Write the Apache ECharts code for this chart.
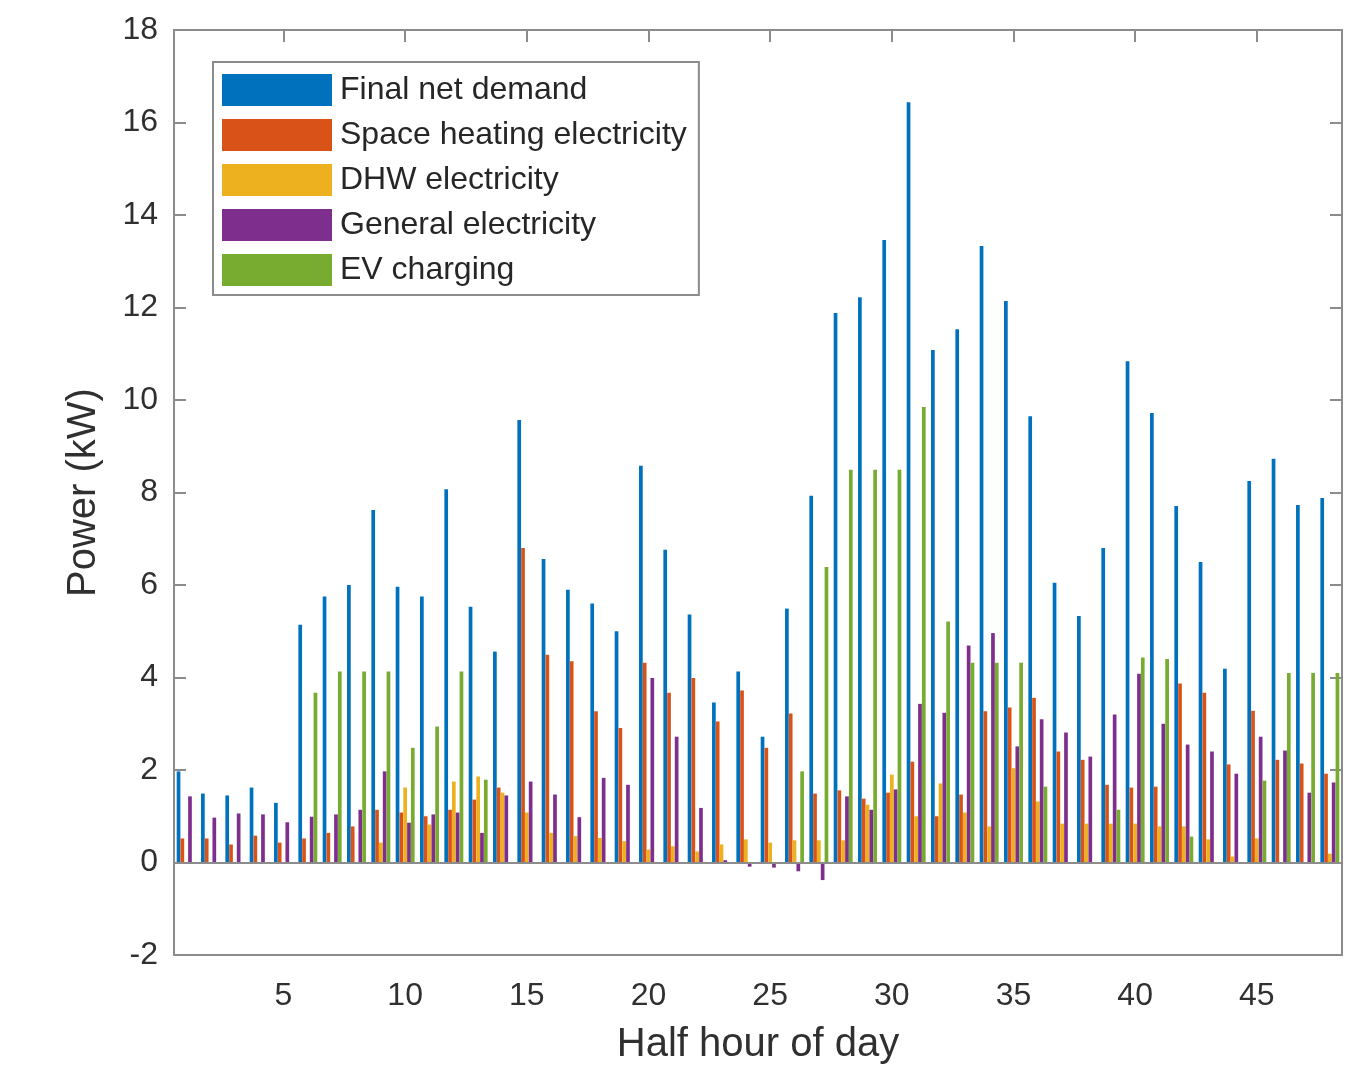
<!DOCTYPE html>
<html lang="en">

<head>
    <meta charset="UTF-8">
    <title>Half hour power</title>
    <style>
        html,
        body {
            margin: 0;
            padding: 0;
            background: #fff;
        }

        #main {
            width: 1350px;
            height: 1072px;
        }
    </style>
</head>

<body>
    <div id="main"></div>
    <script src="https://cdn.jsdelivr.net/npm/echarts@6/dist/echarts.min.js"></script>
    <script>
        // half hours 1..48
        var halfHours = [];
        for (var i = 1; i <= 48; i++) {
            halfHours.push(String(i));
        }

        var seriesNames = ['Final net demand', 'Space heating electricity', 'DHW electricity', 'General electricity', 'EV charging'];
        var seriesColors = ['#0072BD', '#D95319', '#EDB120', '#7E2F8E', '#77AC30'];

        var netDemand = [1.97, 1.49, 1.45, 1.62, 1.29, 5.14, 5.75, 6.0, 7.62, 5.96,
            5.75, 8.07, 5.53, 4.56, 9.57, 6.56, 5.9, 5.6, 5.0, 8.58,
            6.76, 5.36, 3.46, 4.13, 2.72, 5.49, 7.93, 11.88, 12.22, 13.46,
            16.44, 11.08, 11.53, 13.33, 12.14, 9.65, 6.05, 5.33, 6.8, 10.84,
            9.72, 7.71, 6.5, 4.19, 8.25, 8.73, 7.73, 7.88];
        var spaceHeating = [0.52, 0.52, 0.39, 0.58, 0.43, 0.52, 0.64, 0.78, 1.14, 1.08,
            1.0, 1.14, 1.36, 1.62, 6.8, 4.49, 4.35, 3.27, 2.91, 4.32,
            3.67, 3.99, 3.05, 3.72, 2.48, 3.22, 1.49, 1.56, 1.38, 1.51,
            2.18, 1.0, 1.47, 3.27, 3.35, 3.56, 2.4, 2.22, 1.68, 1.62,
            1.64, 3.87, 3.67, 2.12, 3.28, 2.22, 2.14, 1.92];
        var dhw = [0, 0, 0, 0, 0, 0, 0, 0, 0.43, 1.62,
            0.82, 1.75, 1.86, 1.51, 1.08, 0.64, 0.57, 0.53, 0.46, 0.28,
            0.35, 0.24, 0.39, 0.5, 0.43, 0.48, 0.48, 0.48, 1.25, 1.9,
            1.0, 1.71, 1.08, 0.78, 2.04, 1.32, 0.84, 0.84, 0.84, 0.84,
            0.78, 0.78, 0.5, 0.13, 0.52, 0, 0, 0.19];
        var general = [1.43, 0.97, 1.06, 1.04, 0.87, 0.99, 1.04, 1.14, 1.97, 0.86,
            1.04, 1.08, 0.64, 1.45, 1.75, 1.47, 0.98, 1.83, 1.68, 3.99,
            2.72, 1.18, 0.05, -0.09, -0.11, -0.19, -0.38, 1.43, 1.14, 1.58,
            3.43, 3.24, 4.69, 4.96, 2.51, 3.1, 2.81, 2.29, 3.2, 4.08,
            3.0, 2.55, 2.4, 1.92, 2.72, 2.42, 1.51, 1.73];
        var evCharging = [0, 0, 0, 0, 0, 3.67, 4.13, 4.13, 4.13, 2.48,
            2.94, 4.13, 1.79, 0, 0, 0, 0, 0, 0, 0,
            0, 0, 0, 0, 0, 1.97, 6.39, 8.49, 8.49, 8.49,
            9.85, 5.21, 4.32, 4.32, 4.32, 1.64, 0, 0, 1.14, 4.43,
            4.4, 0.56, 0, 0, 1.77, 4.1, 4.1, 4.1];

        var yTicks = [-2, 0, 2, 4, 6, 8, 10, 12, 14, 16, 18];

        var allData = [netDemand, spaceHeating, dhw, general, evCharging];

        var axisGray = '#8c8c8c';
        var textDark = '#303030';
        var fontName = 'Liberation Sans, Arial, sans-serif';

        // only every 5th half hour gets a tick/label
        function everyFifth(index) {
            return (index + 1) % 5 === 0;
        }

        var series = [];
        for (var s = 0; s < allData.length; s++) {
            var item = {
                name: seriesNames[s],
                type: 'bar',
                data: allData[s],
                barWidth: 3.7,
                barGap: '3%',
                itemStyle: {
                    color: seriesColors[s]
                }
            };
            if (s === 0) {
                // baseline at zero
                item.markLine = {
                    silent: true,
                    symbol: 'none',
                    label: {
                        show: false
                    },
                    lineStyle: {
                        color: axisGray,
                        type: 'solid',
                        width: 2
                    },
                    data: [{
                        yAxis: 0
                    }]
                };
            }
            series.push(item);
        }

        var tickStyle = {
            color: axisGray,
            width: 2
        };

        var myChart = echarts.init(document.getElementById('main'));
        var option = {
            backgroundColor: '#fff',
            animation: false,
            textStyle: {
                fontFamily: fontName
            },
            grid: {
                left: 174,
                right: 8,
                top: 30,
                bottom: 117
            },
            legend: {
                orient: 'vertical',
                left: 213,
                top: 62,
                itemWidth: 110,
                itemHeight: 32,
                itemGap: 13,
                padding: [12, 12, 9, 9],
                borderColor: axisGray,
                borderWidth: 2,
                backgroundColor: '#fff',
                icon: 'rect',
                textStyle: {
                    fontSize: 32,
                    lineHeight: 32,
                    color: '#262626',
                    fontFamily: fontName,
                    padding: [0, 0, 0, 3]
                },
                data: seriesNames
            },
            xAxis: [{
                type: 'category',
                data: halfHours,
                position: 'bottom',
                name: 'Half hour of day',
                nameLocation: 'middle',
                nameGap: 70,
                nameTextStyle: {
                    fontSize: 40,
                    color: textDark
                },
                axisLine: {
                    onZero: false,
                    lineStyle: tickStyle
                },
                axisTick: {
                    inside: true,
                    length: 12,
                    alignWithLabel: true,
                    interval: everyFifth,
                    lineStyle: tickStyle
                },
                axisLabel: {
                    interval: everyFifth,
                    margin: 25,
                    fontSize: 32,
                    color: textDark
                },
                splitLine: {
                    show: false
                }
            }, {
                type: 'category',
                data: halfHours,
                position: 'top',
                axisLine: {
                    onZero: false,
                    lineStyle: tickStyle
                },
                axisTick: {
                    show: true,
                    inside: true,
                    length: 12,
                    alignWithLabel: true,
                    interval: everyFifth,
                    lineStyle: tickStyle
                },
                axisLabel: {
                    show: true,
                    interval: everyFifth,
                    color: 'rgba(0,0,0,0)'
                }
            }],
            yAxis: [{
                type: 'value',
                min: yTicks[0],
                max: yTicks[yTicks.length - 1],
                interval: 2,
                name: 'Power (kW)',
                nameLocation: 'middle',
                nameGap: 70,
                nameRotate: 90,
                nameTextStyle: {
                    fontSize: 40,
                    color: textDark
                },
                axisLine: {
                    show: true,
                    lineStyle: tickStyle
                },
                axisTick: {
                    show: true,
                    inside: true,
                    length: 12,
                    lineStyle: tickStyle
                },
                axisLabel: {
                    margin: 16,
                    fontSize: 32,
                    color: textDark
                },
                splitLine: {
                    show: false
                }
            }, {
                type: 'value',
                position: 'right',
                min: yTicks[0],
                max: yTicks[yTicks.length - 1],
                interval: 2,
                axisLine: {
                    show: true,
                    lineStyle: tickStyle
                },
                axisTick: {
                    show: true,
                    inside: true,
                    length: 12,
                    lineStyle: tickStyle
                },
                axisLabel: {
                    show: false
                },
                splitLine: {
                    show: false
                }
            }],
            series: series
        };
        myChart.setOption(option);
    </script>
</body>

</html>
